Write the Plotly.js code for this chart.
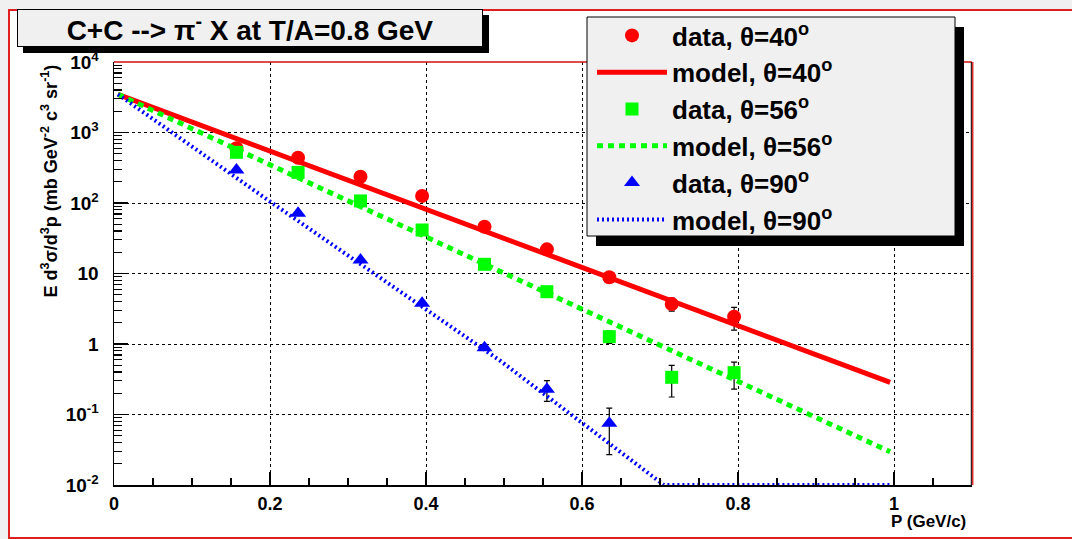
<!DOCTYPE html>
<html><head><meta charset="utf-8">
<script src="https://cdn.plot.ly/plotly-3.0.1.min.js"></script>
<style>html,body{margin:0;padding:0;background:#f0f0f0;}#chart{width:1072px;height:539px;}</style>
</head><body><div id="chart"></div>
<script>
// ---- data ----
const dataP   = [0.157, 0.236, 0.316, 0.395, 0.475, 0.555, 0.635, 0.715, 0.795];
const data40  = [597, 439, 236, 126, 46.1, 22.0, 8.83, 3.69, 2.44];
const err40   = [0, 0, 0, 0, 0, 0, 0, 0.77, 0.87];
const data56  = [524, 272, 107, 41.4, 13.5, 5.52, 1.27, 0.337, 0.392];
const err56   = [0, 0, 0, 0, 0, 0, 0.25, 0.16, 0.163];
const dataP90 = [0.157, 0.236, 0.316, 0.395, 0.475, 0.555, 0.635];
const data90  = [294, 71.4, 15.5, 3.78, 0.887, 0.228, 0.075];
const err90   = [0, 0, 0, 0, 0, 0.074, 0.048];
const modelP   = [0.005, 0.995];
const model40  = [3480, 0.286];
const model56  = [3480, 0.0296];
const modelP90 = [0.005, 0.2, 0.495, 0.705, 0.995];
const model90  = [3480, 105, 0.58, 0.01, 0.01];
const xTickVals = [0, 0.2, 0.4, 0.6, 0.8, 1];
const xTickText = ['0', '0.2', '0.4', '0.6', '0.8', '1'];
const yTickVals = [0.01, 0.1, 1, 10, 100, 1000, 10000];
const yTickText = ['10<sup>-2</sup>', '10<sup>-1</sup>', '1', '10', '10<sup>2</sup>', '10<sup>3</sup>', '10<sup>4</sup>'];
const legendNames = ['data, θ=40<sup>o</sup>', 'model, θ=40<sup>o</sup>', 'data, θ=56<sup>o</sup>',
                     'model, θ=56<sup>o</sup>', 'data, θ=90<sup>o</sup>', 'model, θ=90<sup>o</sup>'];
const titleText = 'C+C --> π<sup>-</sup> X at T/A=0.8 GeV';
const yTitle = 'E d<sup>3</sup>σ/d<sup>3</sup>p (mb GeV<sup>-2</sup> c<sup>3</sup> sr<sup>-1</sup>)';
const xTitle = 'P (GeV/c)';

// ---- layout helpers (pixel -> paper) ----
const L = 114, R = 972, T = 62, B = 485;
const px = v => (v - L) / (R - L);
const py = v => (B - v) / (B - T);
const FONT = 'Liberation Sans, Arial, sans-serif';

function errCfg(arr) {
  return {type: 'data', array: arr, visible: true, color: 'black', thickness: 1.2, width: 3};
}

const traces = [
  {x: dataP, y: data40, name: legendNames[0], mode: 'markers', type: 'scatter',
   marker: {symbol: 'circle', size: 14, color: '#ff0000'}, error_y: errCfg(err40)},
  {x: modelP, y: model40, name: legendNames[1], mode: 'lines', type: 'scatter',
   line: {color: '#ff0000', width: 5}},
  {x: dataP, y: data56, name: legendNames[2], mode: 'markers', type: 'scatter',
   marker: {symbol: 'square', size: 13, color: '#00ff00'}, error_y: errCfg(err56)},
  {x: modelP, y: model56, name: legendNames[3], mode: 'lines', type: 'scatter',
   line: {color: '#00ff00', width: 5, dash: '6px,5px'}},
  {x: dataP90, y: data90, name: legendNames[4], mode: 'markers', type: 'scatter',
   marker: {symbol: 'triangle-up', size: 14, color: '#0000ff'}, error_y: errCfg(err90)},
  {x: modelP90, y: model90, name: legendNames[5], mode: 'lines', type: 'scatter',
   line: {color: '#0000ff', width: 4, dash: '2px,3px'}}
];

const layout = {
  width: 1072, height: 539,
  margin: {l: L, r: 1072 - R, t: T, b: 539 - B, pad: 0},
  paper_bgcolor: '#f0f0f0',
  plot_bgcolor: '#ffffff',
  font: {family: FONT, size: 17, color: 'black', weight: 'bold'},
  showlegend: true,
  legend: {
    x: px(592), y: py(12), xanchor: 'left', yanchor: 'top',
    bgcolor: 'rgba(0,0,0,0)', borderwidth: 0,
    itemwidth: 70,
    font: {family: FONT, size: 26, color: 'black', weight: 'bold'},
    tracegroupgap: 0
  },
  xaxis: {
    range: [0, 1.1], tickmode: 'array', tickvals: xTickVals, ticktext: xTickText,
    showline: true, linecolor: 'black', linewidth: 1.5, mirror: false,
    ticks: 'inside', ticklen: 13, tickcolor: 'black', tickwidth: 1.2,
    showgrid: true, gridcolor: 'black', griddash: 'dot', gridwidth: 1,
    zeroline: false, ticklabelstandoff: 2,
    tickfont: {family: FONT, size: 18, color: 'black', weight: 'bold'},
    minor: {dtick: 0.05, ticks: 'inside', ticklen: 7, tickcolor: 'black', tickwidth: 1.2, showgrid: false}
  },
  yaxis: {
    type: 'log', range: [-2, 4], tickmode: 'array', tickvals: yTickVals, ticktext: yTickText,
    showline: true, linecolor: 'black', linewidth: 1.5, mirror: false,
    ticks: 'inside', ticklen: 14, tickcolor: 'black', tickwidth: 1.2,
    showgrid: true, gridcolor: 'black', griddash: 'dot', gridwidth: 1,
    zeroline: false, ticklabelstandoff: 10,
    tickfont: {family: FONT, size: 19, color: 'black', weight: 'bold'},
    minor: {dtick: 'D1', ticks: 'inside', ticklen: 8, tickcolor: 'black', tickwidth: 1.2, showgrid: false}
  },
  shapes: [
    // canvas white area with red border
    {type: 'rect', xref: 'paper', yref: 'paper', layer: 'below',
     x0: px(9), x1: px(1090), y0: py(10), y1: py(538),
     fillcolor: '#ffffff', line: {color: '#e02020', width: 2}},
    // frame top and right (reddish)
    {type: 'line', xref: 'paper', yref: 'paper', layer: 'above',
     x0: 0, x1: 1, y0: 1, y1: 1, line: {color: '#d01010', width: 1.5}},
    {type: 'line', xref: 'paper', yref: 'paper', layer: 'above',
     x0: px(972.5), x1: px(972.5), y0: 0, y1: 1, line: {color: '#e03030', width: 2}},
    {type: 'line', xref: 'paper', yref: 'paper', layer: 'above',
     x0: px(971.3), x1: px(971.3), y0: 0, y1: 1, line: {color: '#000000', width: 1}},
    // title box shadow
    {type: 'rect', xref: 'paper', yref: 'paper', layer: 'above',
     x0: px(23), x1: px(489), y0: py(15), y1: py(53),
     fillcolor: '#000000', line: {width: 0}},
    // legend shadow and box
    {type: 'rect', xref: 'paper', yref: 'paper', layer: 'above',
     x0: px(596), x1: px(964), y0: py(27), y1: py(246),
     fillcolor: '#000000', line: {width: 0}},
    {type: 'rect', xref: 'paper', yref: 'paper', layer: 'above',
     x0: px(587), x1: px(955), y0: py(17), y1: py(236),
     fillcolor: '#f0f0f0', line: {color: '#000000', width: 1}}
  ],
  annotations: [
    {text: titleText, xref: 'paper', yref: 'paper', x: px(17), y: py(9),
     xanchor: 'left', yanchor: 'top', showarrow: false,
     width: 464, height: 36, align: 'center', valign: 'middle',
     bgcolor: '#f0f0f0', bordercolor: 'black', borderwidth: 1, borderpad: 0,
     font: {family: FONT, size: 28, color: 'black', weight: 'bold'}},
    {text: yTitle, xref: 'paper', yref: 'paper', x: px(50), y: py(63),
     xanchor: 'center', yanchor: 'top', textangle: -90, showarrow: false,
     font: {family: FONT, size: 18, color: 'black', weight: 'bold'}},
    {text: xTitle, xref: 'paper', yref: 'paper', x: px(968), y: py(521),
     xanchor: 'right', yanchor: 'middle', showarrow: false,
     font: {family: FONT, size: 17, color: 'black', weight: 'bold'}}
  ]
};

Plotly.newPlot('chart', traces, layout, {displayModeBar: false, staticPlot: true});
</script>
</body></html>
